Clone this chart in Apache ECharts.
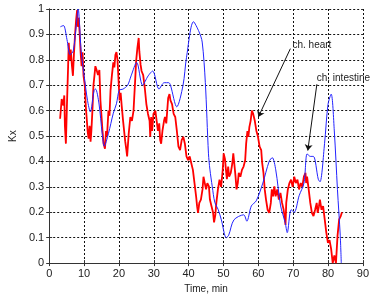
<!DOCTYPE html>
<html>
<head>
<meta charset="utf-8">
<script src="https://cdn.jsdelivr.net/npm/echarts@6/dist/echarts.min.js"></script>
<style>
    html, body { margin: 0; padding: 0; background: #fff; }
    #chart { width: 372px; height: 299px; }
</style>
</head>
<body>
<div id="chart"></div>
<script>
// 时间 (min) / Kx, 读自原图
var intestineKx = [
    [3.2,0.93],[4.1,0.935],[5.1,0.88],[6.0,0.82],[6.9,0.835],[7.8,0.94],[8.3,1.0],
    [9.2,0.83],[10.1,0.73],[11.0,0.64],[11.8,0.595],[12.9,0.68],[13.3,0.685],[14.3,0.626],
    [15.2,0.51],[15.8,0.46],[17.0,0.51],[18.4,0.59],[19.3,0.627],[20.1,0.68],[21.2,0.685],
    [22.5,0.70],[23.5,0.737],[25.1,0.79],[26.8,0.70],[28.4,0.737],[29.7,0.756],[31.5,0.685],
    [33.0,0.71],[34.3,0.71],[34.8,0.70],[36.6,0.615],[38.4,0.70],[39.4,0.81],[41.4,0.95],
    [43.0,0.91],[43.9,0.87],[44.8,0.71],[45.7,0.43],[46.1,0.37],[46.8,0.30],[47.5,0.24],
    [48.5,0.21],[49.4,0.17],[50.8,0.10],[51.5,0.11],[53.0,0.17],[55.8,0.19],[56.7,0.165],
    [58.0,0.225],[59.4,0.245],[61.3,0.315],[63.1,0.40],[64.0,0.415],[65.0,0.367],[66.4,0.225],
    [67.7,0.16],[68.3,0.12],[69.4,0.21],[70.3,0.20],[71.7,0.265],[73.1,0.315],[74.0,0.43],
    [74.9,0.42],[75.8,0.42],[77.2,0.33],[77.7,0.32],[79.0,0.47],[80.0,0.625],[80.9,0.665],
    [81.8,0.52],[82.7,0.29],[83.5,0.11],[83.8,0.0]
];
var heartKx = [
    [3.13,0.568],[3.59,0.646],[4.05,0.62],[4.33,0.66],[4.51,0.54],[4.79,0.47],[5.06,0.607],
    [5.43,0.775],[5.61,0.867],[5.89,0.80],[6.17,0.84],[6.54,0.775],[6.81,0.737],[7.09,0.82],
    [7.45,0.905],[7.73,0.957],[8.01,0.996],[8.19,0.93],[8.47,0.965],[8.74,0.905],[9.02,0.828],
    [9.29,0.775],[9.57,0.83],[9.85,0.737],[10.21,0.70],[10.49,0.62],[10.77,0.568],[11.04,0.517],
    [11.32,0.49],[11.6,0.54],[11.87,0.478],[12.1,0.52],[12.4,0.60],[12.7,0.70],[13.0,0.74],
    [13.25,0.775],[13.6,0.76],[14.0,0.74],[14.4,0.76],[14.7,0.64],[15.0,0.58],[15.3,0.52],
    [15.6,0.47],[16.0,0.45],[16.3,0.52],[16.6,0.50],[17.0,0.60],[17.3,0.58],[17.6,0.68],
    [18.0,0.74],[18.4,0.79],[18.7,0.77],[19.0,0.82],[19.3,0.83],[19.6,0.80],[19.9,0.72],
    [20.2,0.64],[20.5,0.67],[20.8,0.62],[21.2,0.56],[21.5,0.52],[21.8,0.48],[22.1,0.45],
    [22.36,0.42],[22.82,0.51],[23.28,0.575],[23.74,0.56],[24.2,0.60],[24.39,0.65],[24.66,0.717],
    [24.94,0.795],[25.31,0.847],[25.68,0.886],[25.86,0.834],[26.23,0.78],[26.5,0.756],[26.97,0.74],
    [27.42,0.69],[27.88,0.626],[28.35,0.587],[28.8,0.56],[28.99,0.497],[29.26,0.575],[29.54,0.52],
    [29.91,0.587],[30.46,0.60],[30.83,0.56],[31.2,0.52],[31.57,0.55],[31.84,0.484],[32.12,0.47],
    [32.49,0.52],[32.95,0.56],[33.22,0.575],[33.59,0.55],[33.87,0.60],[34.14,0.65],[34.51,0.665],
    [34.79,0.64],[35.25,0.626],[35.71,0.587],[36.17,0.575],[36.63,0.52],[37.09,0.458],[37.55,0.445],
    [38.01,0.484],[38.47,0.497],[38.93,0.47],[39.39,0.42],[39.85,0.405],[40.31,0.42],[40.77,0.393],
    [41.23,0.367],[41.69,0.315],[42.15,0.263],[42.43,0.224],[42.7,0.198],[43.07,0.237],[43.53,0.25],
    [43.99,0.29],[44.27,0.34],[44.64,0.315],[45.0,0.29],[45.37,0.315],[45.83,0.302],[46.11,0.25],
    [46.57,0.224],[47.03,0.198],[47.3,0.16],[47.67,0.19],[47.95,0.237],[48.41,0.29],[48.87,0.328],
    [49.33,0.30],[49.79,0.367],[50.06,0.432],[50.43,0.41],[50.71,0.367],[50.98,0.33],[51.35,0.38],
    [51.63,0.34],[52.09,0.355],[52.55,0.393],[52.82,0.432],[53.19,0.38],[53.47,0.34],[53.75,0.29],
    [54.11,0.315],[54.39,0.355],[54.85,0.34],[55.31,0.367],[55.77,0.38],[56.23,0.405],[56.51,0.47],
    [56.87,0.52],[57.15,0.497],[57.43,0.535],[57.79,0.56],[58.16,0.60],[58.53,0.587],[58.99,0.56],
    [59.45,0.52],[59.91,0.497],[60.37,0.458],[60.83,0.445],[61.11,0.393],[61.48,0.355],[61.84,0.29],
    [62.21,0.25],[62.67,0.21],[63.13,0.198],[63.59,0.237],[63.87,0.29],[64.24,0.263],[64.6,0.302],
    [64.97,0.263],[65.43,0.29],[65.89,0.25],[66.35,0.276],[66.81,0.237],[67.27,0.21],[67.8,0.15],
    [68.01,0.237],[68.47,0.29],[68.93,0.315],[69.39,0.328],[69.85,0.30],[70.31,0.34],[70.77,0.315],
    [71.23,0.328],[71.69,0.29],[72.15,0.315],[72.61,0.30],[73.07,0.34],[73.53,0.355],[73.72,0.315],
    [73.99,0.34],[74.45,0.29],[74.91,0.237],[75.37,0.198],[75.83,0.185],[76.29,0.21],[76.75,0.237],
    [77.03,0.198],[77.4,0.224],[77.67,0.25],[78.13,0.21],[78.59,0.224],[79.05,0.172],[79.51,0.12],
    [79.97,0.08],[80.43,0.09],[80.89,0.056],[81.35,0.0],[81.81,0.03],[82.27,0.0],[82.73,0.108],
    [83.19,0.172],[83.65,0.185],[84.0,0.2]
];
// 注释: 箭头起点/终点, 文字位置
var heartArrow = [[69.2, 0.844], [60.0, 0.575]];
var intestineArrow = [[76.8, 0.704], [74.2, 0.443]];
var notes = [
    { name: 'ch. heart', coord: [69.8, 0.858] },
    { name: 'ch. intestine', coord: [76.75, 0.728] }
];

var font = '"Liberation Sans", Arial, sans-serif';
var myChart = echarts.init(document.getElementById('chart'));

var gridLine = { show: true, lineStyle: { color: '#111', type: [2, 2], width: 1 } };
var boxLine = { show: true, lineStyle: { color: '#333', width: 1 } };
var tick = { show: true, inside: true, length: 3, lineStyle: { color: '#333' } };

var option = {
    animation: false,
    grid: { left: 37, right: 9, top: 9, bottom: 33, containLabel: false },
    xAxis: [{
        type: 'value', min: 0, max: 90, interval: 10,
        name: 'Time, min', nameLocation: 'middle', nameGap: 15,
        nameTextStyle: { color: '#222', fontSize: 10, fontFamily: font },
        axisLine: boxLine, axisTick: tick, splitLine: gridLine,
        axisLabel: { color: '#222', fontSize: 11, fontFamily: font, margin: 5 }
    }, {
        type: 'value', min: 0, max: 90, interval: 10, position: 'top',
        axisLine: boxLine, axisTick: tick, splitLine: { show: false }, axisLabel: { show: false }
    }],
    yAxis: [{
        type: 'value', min: 0, max: 1, interval: 0.1,
        name: 'Kx', nameLocation: 'middle', nameGap: 26, nameRotate: 90,
        nameTextStyle: { color: '#222', fontSize: 10, fontFamily: font },
        axisLine: boxLine, axisTick: tick, splitLine: gridLine,
        axisLabel: { color: '#222', fontSize: 11, fontFamily: font, margin: 5 }
    }, {
        type: 'value', min: 0, max: 1, interval: 0.1, position: 'right',
        axisLine: boxLine, axisTick: tick, splitLine: { show: false }, axisLabel: { show: false }
    }],
    series: [{
        name: 'heart',
        type: 'line',
        data: heartKx,
        showSymbol: false,
        lineStyle: { color: '#ff0000', width: 1.8 },
        z: 3
    }, {
        name: 'intestine',
        type: 'line',
        data: intestineKx,
        showSymbol: false,
        smooth: 0.3,
        lineStyle: { color: '#2323ff', width: 1 },
        z: 4,
        markLine: {
            silent: true,
            symbol: ['none', 'arrow'],
            symbolSize: 6,
            label: { show: false },
            lineStyle: { color: '#111', width: 1, type: 'solid' },
            data: [
                [{ coord: heartArrow[0] }, { coord: heartArrow[1] }],
                [{ coord: intestineArrow[0] }, { coord: intestineArrow[1] }]
            ]
        },
        markPoint: {
            silent: true,
            symbol: 'circle',
            symbolSize: 0,
            label: {
                show: true, position: 'right', distance: 0,
                formatter: '{b}', color: '#222', fontSize: 10, fontFamily: font
            },
            data: notes
        }
    }]
};
myChart.setOption(option);
</script>
</body>
</html>
